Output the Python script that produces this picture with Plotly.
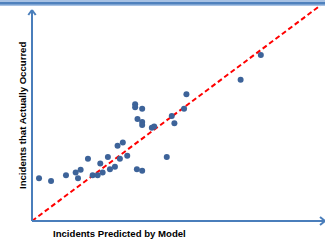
import plotly.graph_objects as go

# Data: incidents predicted by model vs. incidents that actually occurred
predicted = [2.4, 6.5, 11.6, 14.9, 15.7, 16.6, 19.1, 20.7, 22.4, 23.3, 24.1, 25.9,
             26.6, 28.3, 29.2, 30.0, 31.0, 32.5, 35.2, 35.2, 37.6, 36.0, 37.6, 37.6,
             35.8, 37.6, 40.9, 41.7, 46.0, 47.7, 48.6, 51.9, 52.7, 71.2, 78.1]
actual = [19.5, 18.3, 20.9, 22.2, 19.5, 23.4, 28.4, 20.9, 20.9, 26.2, 22.2, 29.2,
          23.6, 24.8, 34.4, 28.4, 35.8, 29.8, 53.3, 51.9, 51.3, 46.6, 45.2, 43.8,
          23.6, 23.0, 42.6, 43.2, 29.2, 47.9, 44.6, 51.3, 57.9, 64.5, 75.8]

# Perfect-prediction reference line
ref_x = [0, 100]
ref_y = [0, 100]

x_title = "Incidents Predicted by Model"
y_title = "Incidents that Actually Occurred"

W, H = 325, 243
ML, MR, MT, MB = 32, 0, 2, 22
PW = W - ML - MR
PH = H - MT - MB


def px_x(p):
    return (p - ML) / PW


def px_y(p):
    return (H - MB - p) / PH


fig = go.Figure()
fig.add_trace(go.Scatter(x=ref_x, y=ref_y, mode="lines",
                         line=dict(color="#ff0000", width=2, dash="5px,3px"),
                         hoverinfo="skip"))
fig.add_trace(go.Scatter(x=predicted, y=actual, mode="markers",
                         marker=dict(color="#3d6399", size=6, line=dict(width=0)),
                         cliponaxis=False))

axis_col = "#4a7ebb"
shapes = [
    # top band
    dict(type="rect", xref="paper", yref="paper", x0=px_x(0), x1=px_x(W), y0=px_y(6), y1=px_y(0),
         fillcolor="#a8c2e4", line=dict(width=0), layer="above"),
    dict(type="rect", xref="paper", yref="paper", x0=px_x(0), x1=px_x(W), y0=px_y(4.5), y1=px_y(2),
         fillcolor="#4f81bd", line=dict(width=0), layer="above"),
    # y axis
    dict(type="line", xref="paper", yref="paper", x0=0, x1=0, y0=0, y1=px_y(10),
         line=dict(color=axis_col, width=2), layer="above"),
    dict(type="line", xref="paper", yref="paper", x0=px_x(28.3), x1=px_x(32), y0=px_y(15), y1=px_y(10),
         line=dict(color=axis_col, width=2), layer="above"),
    dict(type="line", xref="paper", yref="paper", x0=px_x(35.7), x1=px_x(32), y0=px_y(15), y1=px_y(10),
         line=dict(color=axis_col, width=2), layer="above"),
    # x axis
    dict(type="line", xref="paper", yref="paper", x0=0, x1=px_x(325), y0=0, y1=0,
         line=dict(color=axis_col, width=2), layer="above"),
    dict(type="line", xref="paper", yref="paper", x0=px_x(320), x1=px_x(325), y0=px_y(217), y1=px_y(221),
         line=dict(color=axis_col, width=2), layer="above"),
    dict(type="line", xref="paper", yref="paper", x0=px_x(320), x1=px_x(325), y0=px_y(225), y1=px_y(221),
         line=dict(color=axis_col, width=2), layer="above"),
]

font = dict(family="Liberation Sans, Arial", size=9.6, color="#000000")
annotations = [
    dict(text="<b>" + x_title + "</b>", xref="paper", yref="paper", x=px_x(119.5), y=px_y(233),
         showarrow=False, font=font, xanchor="center", yanchor="middle"),
    dict(text="<b>" + y_title + "</b>", xref="paper", yref="paper", x=px_x(22), y=px_y(116),
         showarrow=False, font=font, textangle=-90, xanchor="center", yanchor="middle"),
]

fig.update_layout(
    width=W, height=H,
    margin=dict(l=ML, r=MR, t=MT, b=MB, pad=0),
    paper_bgcolor="white", plot_bgcolor="white",
    showlegend=False,
    xaxis=dict(range=[0, 100], showgrid=False, zeroline=False, showline=False,
               showticklabels=False, ticks=""),
    yaxis=dict(range=[0, 100], showgrid=False, zeroline=False, showline=False,
               showticklabels=False, ticks=""),
    shapes=shapes, annotations=annotations,
)

fig.write_html("out.html", config={"displayModeBar": False},
               post_script="document.body.style.margin='0';document.body.style.overflow='hidden';")
